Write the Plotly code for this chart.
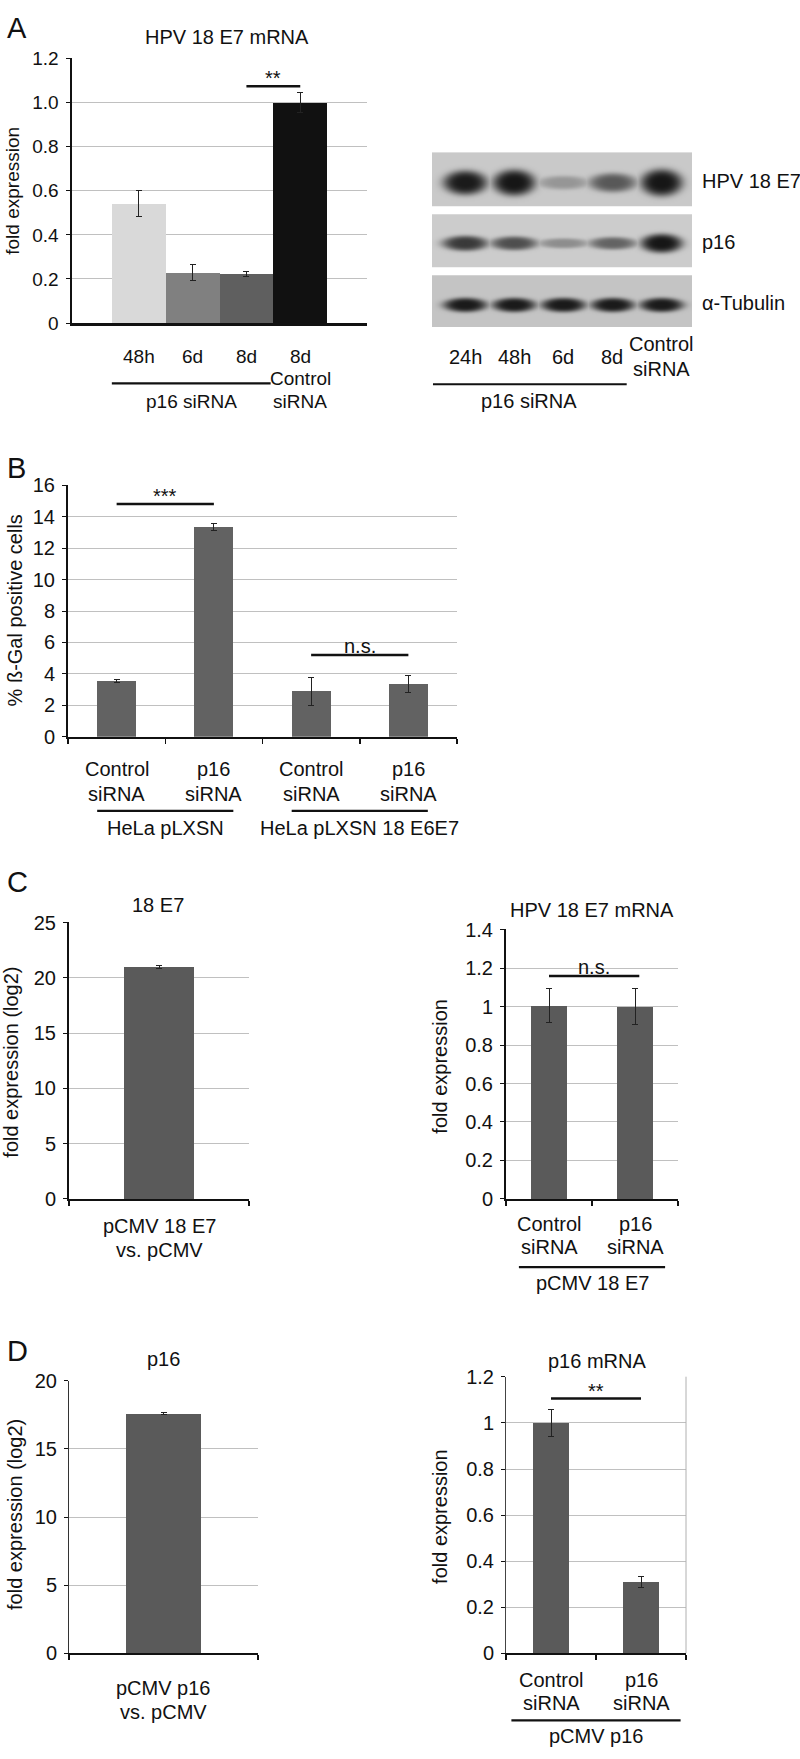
import numpy as np
import plotly.graph_objects as go

W, H = 800, 1759
FONT = "Liberation Sans, Arial, sans-serif"
INK = "#111111"
GRID = "#c0c0c0"

# ---------------- data ----------------
# Panel A (qRT-PCR)
a_labels = ["48h", "6d", "8d", "8d\nControl\nsiRNA"]
a_values = [0.542, 0.228, 0.224, 1.0]
a_errors = [0.060, 0.037, 0.012, 0.045]
a_colors = ["#d9d9d9", "#808080", "#5f5f5f", "#111111"]
a_ticks = [0, 0.2, 0.4, 0.6, 0.8, 1.0, 1.2]
a_ticktext = ["0", "0.2", "0.4", "0.6", "0.8", "1.0", "1.2"]

# Panel A (western blot) - relative band signal per lane
blot_lanes = ["24h", "48h", "6d", "8d", "Control\nsiRNA"]
blot_rows = ["HPV 18 E7", "p16", "α-Tubulin"]
blot_e7 = [0.85, 0.95, 0.25, 0.55, 1.0]
blot_p16 = [0.70, 0.60, 0.30, 0.50, 1.0]
blot_tub = [0.85, 0.85, 0.85, 0.85, 0.85]

# Panel B
b_labels = ["Control\nsiRNA", "p16\nsiRNA", "Control\nsiRNA", "p16\nsiRNA"]
b_values = [3.55, 13.35, 2.9, 3.35]
b_errors = [0.12, 0.22, 0.88, 0.55]
b_groups = ["HeLa pLXSN", "HeLa pLXSN 18 E6E7"]
b_ticks = [0, 2, 4, 6, 8, 10, 12, 14, 16]

# Panel C
c1_labels = ["pCMV 18 E7\nvs. pCMV"]
c1_values = [21.0]
c1_errors = [0.12]
c1_ticks = [0, 5, 10, 15, 20, 25]
c2_labels = ["Control\nsiRNA", "p16\nsiRNA"]
c2_values = [1.005, 1.0]
c2_errors = [0.09, 0.095]
c2_ticks = [0, 0.2, 0.4, 0.6, 0.8, 1, 1.2, 1.4]

# Panel D
d1_labels = ["pCMV p16\nvs. pCMV"]
d1_values = [17.6]
d1_errors = [0.07]
d1_ticks = [0, 5, 10, 15, 20]
d2_labels = ["Control\nsiRNA", "p16\nsiRNA"]
d2_values = [1.0, 0.309]
d2_errors = [0.06, 0.023]
d2_ticks = [0, 0.2, 0.4, 0.6, 0.8, 1, 1.2]


def fx(px):
    return px / W


def fy(px):
    return 1 - px / H


fig = go.Figure()
annotations = []
shapes = []


def text(x, y, s, size=20, xref="paper", yref="paper", xanchor="center",
         yanchor="middle", angle=0, yshift=0):
    annotations.append(dict(x=x, y=y, xref=xref, yref=yref, text=s,
                            showarrow=False, xanchor=xanchor, yanchor=yanchor,
                            textangle=angle, yshift=yshift,
                            font=dict(family=FONT, size=size, color=INK)))


def cat_labels(xref, labels, y_first, pitch, size=20):
    for i, lab in enumerate(labels):
        for k, line in enumerate(lab.split("\n")):
            text(i, fy(y_first + k * pitch), line, size=size, xref=xref)


def hline(xref, x0, x1, ypx, width=2.2):
    shapes.append(dict(type="line", xref=xref, yref="paper", x0=x0, x1=x1,
                       y0=fy(ypx), y1=fy(ypx),
                       line=dict(color=INK, width=width)))


def sig(xref, yref, x0, x1, yv, label, size=20, yshift=-4):
    shapes.append(dict(type="line", xref=xref, yref=yref, x0=x0, x1=x1,
                       y0=yv, y1=yv, line=dict(color=INK, width=2.5)))
    text((x0 + x1) / 2, yv, label, size=size, xref=xref, yref=yref,
         yanchor="bottom", yshift=yshift)


def axes(n, xdom, ydom, xrange, yrange, yticks, yticktext=None, xticks=None,
         tsize=20, ylw=2, ylc=INK, xlw=2):
    xa = dict(domain=[fx(xdom[0]), fx(xdom[1])], range=xrange,
              showgrid=False, zeroline=False, showline=True, linecolor=INK,
              linewidth=xlw, showticklabels=False, fixedrange=True,
              anchor="y" + ("" if n == 1 else str(n)))
    if xticks:
        xa.update(tickvals=xticks, ticks="outside", ticklen=5, tickwidth=1.5,
                  tickcolor=INK)
    else:
        xa.update(ticks="")
    ya = dict(domain=[fy(ydom[1]), fy(ydom[0])],
              range=[yrange[0], yrange[1] * 1.0008],
              tickvals=yticks, ticktext=yticktext or [str(t) for t in yticks],
              showgrid=True, gridcolor=GRID, gridwidth=1, zeroline=False,
              showline=True, linecolor=ylc, linewidth=ylw, ticks="outside",
              ticklen=4, tickwidth=1, tickcolor=INK, ticklabelstandoff=3,
              tickfont=dict(family=FONT, size=tsize, color=INK),
              fixedrange=True, anchor="x" + ("" if n == 1 else str(n)))
    key = "" if n == 1 else str(n)
    fig.update_layout(**{"xaxis" + key: xa, "yaxis" + key: ya})


def bars(n, values, errors, colors, width):
    key = "" if n == 1 else str(n)
    fig.add_trace(go.Bar(
        x=list(range(len(values))), y=values, width=width,
        marker=dict(color=colors, line=dict(width=0)),
        error_y=dict(type="data", array=errors, thickness=1, width=3,
                     color="#222222"),
        xaxis="x" + key, yaxis="y" + key, hoverinfo="skip"))


# ---------------- Panel A: bar chart ----------------
axes(1, (72, 367), (48, 316), [-1.24, 4.24], [0, 1.2], a_ticks, a_ticktext,
     tsize=19, ylw=2.5, xlw=2.5)
bars(1, a_values, a_errors, a_colors, 1.0)
text(fx(227), fy(26), "HPV 18 E7 mRNA", size=20)
text(fx(13), fy(182), "fold expression", size=19, angle=-90)
cat_labels("x", a_labels, 350, 22.5, size=19)
hline("x", -0.5, 2.45, 377)
text(0.975, fy(395), "p16 siRNA", size=19, xref="x")
sig("x", "y", 2, 3, 1.075, "**", size=20, yshift=-5)
text(fx(5), fy(17), "A", size=29, xanchor="left")

# ---------------- Panel A: western blot ----------------
lane0_px, lane_pitch = 465.0, 49.0
row0_px, row_pitch = 170.0, 62.0
bxr = [(432 - lane0_px) / lane_pitch, (692 - lane0_px) / lane_pitch]
byr = [(143 - row0_px) / row_pitch, (320 - row0_px) / row_pitch]
half_box = 27.0 / row_pitch
gx = np.linspace(bxr[0], bxr[1], 260)
gy = np.linspace(byr[0], byr[1], 177)
XX, YY = np.meshgrid(gx, gy)
img = np.full(XX.shape, np.nan)
row_bg = [201.0, 204.0, 196.0]
row_h = [27.0, 19.0, 16.0]
for r, signal in enumerate([blot_e7, blot_p16, blot_tub]):
    inside = np.abs(YY - r) <= half_box
    band = np.full(XX.shape, row_bg[r])
    for lane, s in enumerate(signal):
        wx = (21.0 + 7.0 * (1 - s)) / lane_pitch
        wy = row_h[r] * (0.35 + 0.65 * s) / 2 / row_pitch
        rr = ((XX - lane) / wx) ** 2 + ((YY - r - 0.05) / wy) ** 2
        f = np.exp(-rr ** 2)
        val = row_bg[r] - (row_bg[r] - 22) * min(1.0, 1.15 * s) * f
        band = np.minimum(band, val)
    img[inside] = band[inside]

fig.add_trace(go.Heatmap(x=gx, y=gy, z=img, zmin=0, zmax=255,
                         colorscale=[[0, "rgb(0,0,0)"], [1, "rgb(255,255,255)"]],
                         showscale=False, hoverinfo="skip", zsmooth="best",
                         xaxis="x2", yaxis="y2"))
fig.update_layout(
    xaxis2=dict(domain=[fx(432), fx(692)], range=bxr, visible=False,
                fixedrange=True, anchor="y2"),
    yaxis2=dict(domain=[fy(320), fy(143)], range=[byr[1], byr[0]],
                visible=False, fixedrange=True, anchor="x2"))
for r, name in enumerate(blot_rows):
    text(fx(700), fy(row0_px + r * row_pitch + 2), name, size=20,
         xanchor="left")
for i, lab in enumerate(blot_lanes):
    lines = lab.split("\n")
    start = 350 - (len(lines) - 1) * 12.5
    for k, line in enumerate(lines):
        text(i, fy(start + k * 25), line, size=20, xref="x2")
hline("x2", bxr[0] + 0.02, 3.3, 378)
text((bxr[0] + 3.3) / 2, fy(395), "p16 siRNA", size=20, xref="x2")

# ---------------- Panel B ----------------
axes(3, (68, 457), (480, 735), [-0.5, 3.5], [0, 16], b_ticks,
     xticks=[-0.5, 0.5, 1.5, 2.5, 3.5])
bars(3, b_values, b_errors, "#626262", 0.4)
cat_labels("x3", b_labels, 768, 25)
hline("x3", -0.2, 1.2, 810)
hline("x3", 1.8, 3.2, 810)
text(0.5, fy(827), b_groups[0], xref="x3")
text(2.5, fy(827), b_groups[1], xref="x3")
sig("x3", "y3", 0, 1, 14.8, "***", yshift=-5)
sig("x3", "y3", 2, 3, 5.2, "n.s.", yshift=-4)
text(fx(15), fy(607), "% ß-Gal positive cells", angle=-90)
text(fx(5), fy(463), "B", size=29, xanchor="left")

# ---------------- Panel C ----------------
axes(4, (69, 249), (923, 1203), [-0.5, 0.5], [0, 25], c1_ticks,
     xticks=[-0.5, 0.5])
bars(4, c1_values, c1_errors, "#5a5a5a", 0.394)
text(fx(158), fy(905), "18 E7")
text(fx(11), fy(1065), "fold expression (log2)", angle=-90)
cat_labels("x4", c1_labels, 1230, 25)
text(fx(5), fy(882), "C", size=29, xanchor="left")

axes(5, (506, 678), (930, 1203), [-0.5, 1.5], [0, 1.4], c2_ticks,
     xticks=[-0.5, 0.5, 1.5])
bars(5, c2_values, c2_errors, "#5a5a5a", 0.42)
text(fx(592), fy(910), "HPV 18 E7 mRNA")
text(fx(440), fy(1069), "fold expression", angle=-90)
cat_labels("x5", c2_labels, 1228, 24)
hline("x5", -0.35, 1.35, 1272)
text(0.5, fy(1288), "pCMV 18 E7", xref="x5")
sig("x5", "y5", 0, 1.05, 1.159, "n.s.", yshift=-4)

# ---------------- Panel D ----------------
axes(6, (69, 258), (1387, 1663), [-0.5, 0.5], [0, 20], d1_ticks,
     xticks=[-0.5, 0.5], ylw=1, ylc="#333333")
bars(6, d1_values, d1_errors, "#5a5a5a", 0.4)
text(fx(163), fy(1365), "p16")
text(fx(15), fy(1523), "fold expression (log2)", angle=-90)
cat_labels("x6", d1_labels, 1698, 25)
text(fx(5), fy(1357), "D", size=29, xanchor="left")

axes(7, (506, 686), (1383, 1663), [-0.5, 1.5], [0, 1.2], d2_ticks,
     xticks=[-0.5, 0.5, 1.5], ylw=1, ylc="#444444")
bars(7, d2_values, d2_errors, "#5a5a5a", 0.41)
shapes.append(dict(type="line", xref="x7 domain", yref="y7 domain",
                   x0=1, x1=1, y0=0, y1=1,
                   line=dict(color="#b0b0b0", width=1)))
text(fx(597), fy(1367), "p16 mRNA")
text(fx(440), fy(1525), "fold expression", angle=-90)
cat_labels("x7", d2_labels, 1690, 23)
hline("x7", -0.44, 1.44, 1731)
text(0.5, fy(1747), "pCMV p16", xref="x7")
sig("x7", "y7", 0, 1, 1.106, "**", yshift=-5)

fig.update_layout(width=W, height=H, margin=dict(l=0, r=0, t=0, b=0),
                  paper_bgcolor="white", plot_bgcolor="white",
                  showlegend=False, annotations=annotations, shapes=shapes,
                  font=dict(family=FONT, color=INK), bargap=0)

# the page's default body margin would shift the figure; remove it
fig.write_html("out.html",
               config={"displayModeBar": False, "staticPlot": True},
               post_script="document.body.style.margin='0';"
                           "document.documentElement.style.overflow='hidden';")
